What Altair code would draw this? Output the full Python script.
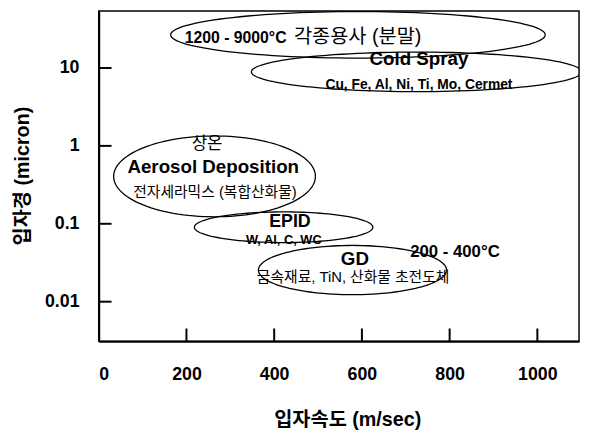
import altair as alt
import pandas as pd

# ---- data ----
process = ["thermal_spray", "cold_spray", "aerosol", "epid", "gd"]
v_min = [164, 348, 34, 218, 364]          # particle velocity range (m/sec)
v_max = [1018, 1101, 494, 625, 793]
d_min = [13.4, 4.97, 0.123, 0.0574, 0.0123]   # particle size range (micron)
d_max = [53.0, 16.0, 1.34, 0.142, 0.0527]

x_ticks = [0, 200, 400, 600, 800, 1000]
y_ticks = [0.01, 0.1, 1, 10]

label_text = [
    "1200 - 9000°C", "각종용사 (분말)", "Cold Spray", "Cu, Fe, Al, Ni, Ti, Mo, Cermet",
    "상온", "Aerosol Deposition", "전자세라믹스 (복합산화물)",
    "EPID", "W, Al, C, WC", "GD", "200 - 400°C", "금속재료, TiN, 산화물 초전도체",
]
label_v = [196, 445, 730, 730, 247, 261, 265, 436, 422, 584, 710, 580]
label_d = [24.0, 24.6, 13.0, 6.1, 1.06, 0.527, 0.254, 0.106, 0.0626, 0.035, 0.043, 0.0207]

# ---- styles ----
FONT = "Liberation Sans, Noto Sans CJK KR, sans-serif"
W, H = 487, 335
label_styles = [
    dict(fontSize=16, fontWeight="bold", align="left"),
    dict(fontSize=20, fontWeight="normal", align="left"),
    dict(fontSize=19, fontWeight="bold", align="center"),
    dict(fontSize=14, fontWeight="bold", align="center"),
    dict(fontSize=17, fontWeight="normal", align="center"),
    dict(fontSize=19, fontWeight="bold", align="center"),
    dict(fontSize=15, fontWeight="normal", align="center"),
    dict(fontSize=18, fontWeight="bold", align="center"),
    dict(fontSize=13, fontWeight="bold", align="center"),
    dict(fontSize=19, fontWeight="bold", align="center"),
    dict(fontSize=17, fontWeight="bold", align="left"),
    dict(fontSize=15, fontWeight="normal", align="center"),
]

x_scale = alt.Scale(domain=[0, 1095], nice=False, zero=False)
y_scale = alt.Scale(type="log", domain=[0.0031, 54], nice=False)

x_axis = alt.Axis(
    values=x_ticks, format="d", ticks=False, grid=False, labelFontSize=18, labelFontWeight="bold",
    labelFont=FONT, labelColor="black", labelPadding=25, domainColor="black", domainWidth=2,
    title="입자속도 (m/sec)", titleFont=FONT, titleFontSize=20, titleFontWeight="bold",
    titleColor="black", titleX=252, titleY=79, titleBaseline="middle", titleAlign="center",
)
y_axis = alt.Axis(
    values=y_ticks, format="~g", ticks=False, grid=False, labelFontSize=18, labelFontWeight="bold",
    labelFont=FONT, labelColor="black", labelPadding=20, domainColor="black", domainWidth=2,
    title="입자경 (micron)", titleFont=FONT, titleFontSize=20, titleFontWeight="bold",
    titleColor="black", titleX=-77, titleY=167, titleBaseline="middle", titleAlign="center",
)


def X(field):
    return alt.X(field, type="quantitative", scale=x_scale, axis=x_axis)


def Y(field):
    return alt.Y(field, type="quantitative", scale=y_scale, axis=y_axis)


ell = pd.DataFrame({"process": process, "v_min": v_min, "v_max": v_max,
                    "d_min": d_min, "d_max": d_max})

ellipses = (
    alt.Chart(ell)
    .transform_calculate(t="sequence(0, 361, 3)")
    .transform_flatten(["t"])
    .transform_calculate(
        vc="(datum.v_min + datum.v_max) / 2",
        vr="(datum.v_max - datum.v_min) / 2",
        lc="(log(datum.d_min) + log(datum.d_max)) / 2",
        lr="(log(datum.d_max) - log(datum.d_min)) / 2",
    )
    .transform_calculate(
        v="datum.vc + datum.vr * cos(datum.t * PI / 180)",
        d="exp(datum.lc + datum.lr * sin(datum.t * PI / 180))",
    )
    .mark_line(color="black", strokeWidth=1.3, clip=True)
    .encode(x=X("v"), y=Y("d"), detail="process:N", order="t:Q")
)

ytick_rules = (
    alt.Chart(pd.DataFrame({"d": y_ticks}))
    .mark_rule(color="black", strokeWidth=2)
    .encode(y=Y("d"), x=alt.value(0), x2=alt.value(13))
)
xtick_rules = (
    alt.Chart(pd.DataFrame({"v": x_ticks[1:]}))
    .mark_rule(color="black", strokeWidth=2)
    .encode(x=X("v"), y=alt.value(H), y2=alt.value(H - 13))
)

labels = pd.DataFrame({"text": label_text, "v": label_v, "d": label_d})
text_layers = []
for i, style in enumerate(label_styles):
    text_layers.append(
        alt.Chart(labels.iloc[[i]])
        .mark_text(font=FONT, color="black", baseline="middle", **style)
        .encode(x=X("v"), y=Y("d"), text="text:N")
    )

chart = (
    alt.layer(ellipses, ytick_rules, xtick_rules, *text_layers)
    .properties(
        width=W, height=H,
        autosize=alt.AutoSizeParams(type="none"),
        padding={"left": 92, "top": 0, "right": 2, "bottom": 90},
        background="white",
    )
    .configure_view(stroke="black", strokeWidth=1.5)
)

chart.save("out.html", embed_options={"renderer": "svg", "actions": False})
